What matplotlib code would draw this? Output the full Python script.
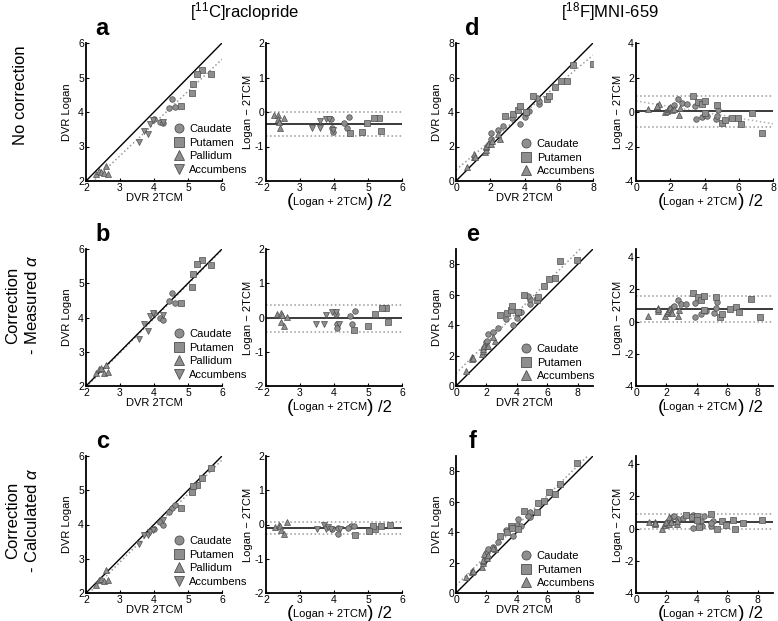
import numpy as np
import matplotlib.pyplot as plt
from matplotlib.lines import Line2D

plt.rcParams['font.family'] = ['Liberation Sans', 'DejaVu Sans']
plt.rcParams['mathtext.fontset'] = 'custom'
plt.rcParams['mathtext.rm'] = 'Liberation Sans'
plt.rcParams['mathtext.it'] = 'Liberation Sans:italic'
plt.rcParams['mathtext.bf'] = 'Liberation Sans:bold'
plt.rcParams['axes.unicode_minus'] = False

# ---- [11C]raclopride : 2TCM DVR per region ----
rac_regions = ['Caudate', 'Putamen', 'Pallidum', 'Accumbens']
rac_markers = ['o', 's', '^', 'v']
rac_2tcm_caudate = [4.52, 4.45, 4.61, 4.01, 4.18, 4.25]
rac_2tcm_putamen = [5.40, 5.27, 5.67, 5.15, 5.13, 4.78]
rac_2tcm_pallidum = [2.29, 2.38, 2.45, 2.52, 2.60, 2.65]
rac_2tcm_accumbens = [3.57, 3.72, 3.82, 3.87, 3.97, 4.25]

# Logan DVR, no correction (a)
rac_logan_a_caudate = [4.38, 4.13, 4.14, 3.81, 3.72, 3.68]
rac_logan_a_putamen = [5.22, 5.11, 5.11, 4.82, 4.54, 4.16]
rac_logan_a_pallidum = [2.19, 2.30, 2.25, 2.22, 2.44, 2.20]
rac_logan_a_accumbens = [3.12, 3.46, 3.36, 3.66, 3.76, 3.72]
# measured alpha (b)
rac_logan_b_caudate = [4.72, 4.49, 4.43, 4.12, 4.00, 3.93]
rac_logan_b_putamen = [5.68, 5.55, 5.53, 5.26, 4.89, 4.42]
rac_logan_b_pallidum = [2.38, 2.50, 2.52, 2.38, 2.62, 2.40]
rac_logan_b_accumbens = [3.38, 3.80, 3.62, 4.04, 4.12, 4.06]
# calculated alpha (c)
rac_logan_c_caudate = [4.48, 4.36, 4.58, 3.87, 4.07, 3.98]
rac_logan_c_putamen = [5.36, 5.15, 5.65, 5.12, 4.94, 4.48]
rac_logan_c_pallidum = [2.22, 2.38, 2.40, 2.35, 2.66, 2.38]
rac_logan_c_accumbens = [3.43, 3.70, 3.68, 3.79, 3.85, 4.13]

# ---- [18F]MNI-659 ----
mni_regions = ['Caudate', 'Putamen', 'Accumbens']
mni_markers = ['o', 's', '^']
mni_2tcm_caudate = [1.97, 2.02, 2.07, 2.43, 2.74, 3.28, 3.73, 4.02, 4.08, 4.26, 4.85, 4.85, 4.72]
mni_2tcm_putamen = [2.88, 3.32, 3.63, 3.71, 4.09, 4.49, 5.34, 5.41, 5.80, 6.13, 6.50, 6.83, 7.98]
mni_2tcm_accumbens = [0.63, 1.03, 1.08, 1.09, 1.71, 1.78, 1.75, 1.78, 1.85, 2.03, 2.11, 2.57, 2.46]

mni_logan_d_caudate = [2.21, 2.45, 2.80, 2.94, 3.21, 3.65, 3.32, 3.71, 3.92, 4.04, 4.44, 4.63, 4.84]
mni_logan_d_putamen = [3.78, 3.89, 4.10, 4.32, 4.01, 4.92, 4.73, 4.94, 5.45, 5.78, 5.79, 6.75, 6.78]
mni_logan_d_accumbens = [0.81, 1.40, 1.55, 1.41, 1.69, 1.82, 1.95, 2.02, 2.16, 2.15, 2.29, 2.41, 2.70]

mni_logan_e_caudate = [2.86, 2.98, 3.42, 3.54, 3.81, 4.43, 4.03, 4.48, 4.82, 4.89, 5.37, 5.70, 5.94]
mni_logan_e_putamen = [4.64, 4.82, 4.96, 5.28, 4.83, 5.99, 5.64, 5.87, 6.60, 7.04, 7.09, 8.22, 8.28]
mni_logan_e_accumbens = [1.00, 1.88, 1.75, 1.84, 2.08, 2.30, 2.53, 2.41, 2.65, 2.63, 2.66, 2.94, 3.20]

mni_logan_f_caudate = [2.44, 2.71, 2.87, 3.05, 3.38, 4.15, 3.75, 4.49, 4.88, 4.39, 4.98, 5.32, 5.08]
mni_logan_f_putamen = [3.73, 4.01, 4.43, 4.26, 4.19, 5.40, 5.34, 5.88, 6.04, 6.66, 6.50, 7.19, 8.51]
mni_logan_f_accumbens = [1.03, 1.43, 1.39, 1.44, 1.71, 1.98, 2.11, 2.20, 2.54, 2.32, 2.51, 2.86, 2.93]

# Bland-Altman bias and limits (rows a/b/c and d/e/f)
rac_bias = [-0.35, -0.02, -0.11]
rac_upper = [0.00, 0.37, 0.08]
rac_lower = [-0.70, -0.41, -0.27]
mni_bias = [0.03, 0.80, 0.42]
mni_upper = [0.94, 1.57, 0.88]
mni_lower = [-0.86, 0.00, -0.02]

W, H = 778, 621
FACE = '#8e8e8e'
EDGE = '#4e4e4e'


def add_ax(fig, left, top, right, bottom):
    ax = fig.add_axes([left / W, 1 - bottom / H, (right - left) / W, (bottom - top) / H])
    ax.spines[['top', 'right']].set_visible(False)
    for s in ('left', 'bottom'):
        ax.spines[s].set_linewidth(1.3)
    ax.tick_params(direction='in', length=2.5, width=0.8, labelsize=7.5, pad=1.5)
    return ax


def scatter_panel(ax, xs, ys, names, marks, lim, ticks, letter, leg_x, leg_y, trend=True):
    for x, y, m in zip(xs, ys, marks):
        ax.plot(x, y, ls='none', marker=m, ms=4, mfc=FACE, mec=EDGE, mew=0.5, zorder=3)
    ax.plot(lim, lim, color='black', lw=1, zorder=2)
    if trend:
        k, b = np.polyfit(np.concatenate(xs), np.concatenate(ys), 1)
        xx = np.array(lim, dtype=float)
        ax.plot(xx, k * xx + b, color='#9a9a9a', ls=':', lw=1.1, zorder=1)
    ax.set_xlim(lim)
    ax.set_ylim(lim)
    ax.set_xticks(ticks)
    ax.set_yticks(ticks)
    ax.set_xlabel('DVR 2TCM', fontsize=8, va='center')
    ax.set_ylabel('DVR Logan', fontsize=8, va='center')
    h = ax.get_position().height * H
    w = ax.get_position().width * W
    ax.xaxis.set_label_coords(0.5, -17 / h)
    ax.yaxis.set_label_coords(-19 / w, 0.5)
    handles = [Line2D([], [], ls='none', marker=m, ms=6.5, mfc=FACE, mec=EDGE, mew=0.6)
               for m in marks]
    ax.legend(handles, names, loc='lower left', bbox_to_anchor=(leg_x, leg_y), frameon=False,
              fontsize=8, handlelength=0.9, handletextpad=0.5, labelspacing=0.32,
              borderaxespad=0, borderpad=0)
    ax.text(0.12, 1.02, letter, transform=ax.transAxes, fontsize=17, fontweight='bold',
            ha='center', va='bottom')


def ba_panel(ax, xs, ys, marks, xlim, ylim, xticks, yticks, bias, upper, lower, trend=False):
    means = [(np.array(x) + np.array(y)) / 2 for x, y in zip(xs, ys)]
    diffs = [np.array(y) - np.array(x) for x, y in zip(xs, ys)]
    for mn, df, m in zip(means, diffs, marks):
        ax.plot(mn, df, ls='none', marker=m, ms=4, mfc=FACE, mec=EDGE, mew=0.5, zorder=3)
    ax.axhline(bias, color='#3a3a3a', lw=1.4, zorder=2)
    ax.axhline(upper, color='#9a9a9a', ls=':', lw=1.1, zorder=1)
    ax.axhline(lower, color='#9a9a9a', ls=':', lw=1.1, zorder=1)
    if trend:
        k, b = np.polyfit(np.concatenate(means), np.concatenate(diffs), 1)
        xx = np.array(xlim, dtype=float)
        ax.plot(xx, k * xx + b, color='#b0b0b0', ls=':', lw=1.1, zorder=1)
    ax.set_xlim(xlim)
    ax.set_ylim(ylim)
    ax.set_xticks(xticks)
    ax.set_yticks(yticks)
    ax.set_ylabel('Logan \u2212 2TCM', fontsize=8, va='center')
    w = ax.get_position().width * W
    h = ax.get_position().height * H
    ax.yaxis.set_label_coords(-18 / w, 0.5)
    yy = -21 / h
    tr = ax.transAxes
    ax.text(0.18, yy, '(', transform=tr, fontsize=14, ha='center', va='center')
    ax.text(0.47, yy, 'Logan + 2TCM', transform=tr, fontsize=8, ha='center', va='center')
    ax.text(0.765, yy, ')', transform=tr, fontsize=14, ha='center', va='center')
    ax.text(0.875, yy, '/2', transform=tr, fontsize=12, ha='center', va='center')


fig = plt.figure(figsize=(W / 100, H / 100), dpi=100)

rac_x = [rac_2tcm_caudate, rac_2tcm_putamen, rac_2tcm_pallidum, rac_2tcm_accumbens]
rac_rows = [
    [rac_logan_a_caudate, rac_logan_a_putamen, rac_logan_a_pallidum, rac_logan_a_accumbens],
    [rac_logan_b_caudate, rac_logan_b_putamen, rac_logan_b_pallidum, rac_logan_b_accumbens],
    [rac_logan_c_caudate, rac_logan_c_putamen, rac_logan_c_pallidum, rac_logan_c_accumbens],
]
mni_x = [mni_2tcm_caudate, mni_2tcm_putamen, mni_2tcm_accumbens]
mni_rows = [
    [mni_logan_d_caudate, mni_logan_d_putamen, mni_logan_d_accumbens],
    [mni_logan_e_caudate, mni_logan_e_putamen, mni_logan_e_accumbens],
    [mni_logan_f_caudate, mni_logan_f_putamen, mni_logan_f_accumbens],
]

row_tops = [43, 249, 456]
row_bottoms = [181, 386, 593]
rac_letters = ['a', 'b', 'c']
mni_letters = ['d', 'e', 'f']
mni_lims = [(0, 8), (0, 9), (0, 9)]
mni_ba_ylims = [(-4, 4), (-4, 4.5), (-4, 4.5)]

for i in range(3):
    t, b = row_tops[i], row_bottoms[i]
    ax = add_ax(fig, 86, t, 222, b)
    scatter_panel(ax, rac_x, rac_rows[i], rac_regions, rac_markers, (2, 6), [2, 3, 4, 5, 6],
                  rac_letters[i], 0.645, 0.045, trend=True)
    ax = add_ax(fig, 266, t, 402, b)
    ba_panel(ax, rac_x, rac_rows[i], rac_markers, (2, 6), (-2, 2), [2, 3, 4, 5, 6],
             [-2, -1, 0, 1, 2], rac_bias[i], rac_upper[i], rac_lower[i])
    ax = add_ax(fig, 456, t, 593, b)
    lim = mni_lims[i]
    scatter_panel(ax, mni_x, mni_rows[i], mni_regions, mni_markers, lim, [0, 2, 4, 6, 8],
                  mni_letters[i], 0.475, 0.035, trend=True)
    ax = add_ax(fig, 636, t, 773, b)
    ba_panel(ax, mni_x, mni_rows[i], mni_markers, lim, mni_ba_ylims[i], [0, 2, 4, 6, 8],
             [-4, -2, 0, 2, 4], mni_bias[i], mni_upper[i], mni_lower[i], trend=(i == 0))

fig.text(245 / W, 1 - 12 / H, '[$^{11}$C]raclopride', fontsize=12, ha='center', va='center')
fig.text(610 / W, 1 - 12 / H, '[$^{18}$F]MNI-659', fontsize=12, ha='center', va='center')

fig.text(21 / W, 1 - 95 / H, 'No correction', fontsize=12, rotation=90, ha='center', va='center')
fig.text(23 / W, 1 - 305 / H, 'Correction\n- Measured $\\alpha$', fontsize=12, rotation=90,
         ha='center', va='center', linespacing=1.3)
fig.text(23 / W, 1 - 520 / H, 'Correction\n- Calculated $\\alpha$', fontsize=12, rotation=90,
         ha='center', va='center', linespacing=1.3)

fig.savefig('out.png', dpi=100)
